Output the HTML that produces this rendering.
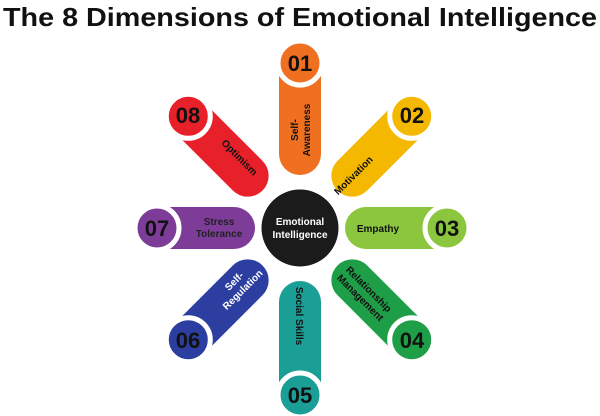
<!DOCTYPE html>
<html><head><meta charset="utf-8"><style>
html,body{margin:0;padding:0;background:#fff;}
svg{display:block;font-family:"Liberation Sans",sans-serif;font-weight:bold;}
</style></head><body>
<svg width="600" height="416" viewBox="0 0 600 416">
<text x="3" y="26" font-size="26" textLength="594" lengthAdjust="spacingAndGlyphs" fill="#111">The 8 Dimensions of Emotional Intelligence</text>

<g transform="translate(300,228)">
  <g transform="rotate(-90)"><path d="M152,-21 L74,-21 A21,21 0 0 0 74,21 L152,21 Z" fill="#f07021"/><circle cx="165" cy="0" r="22" fill="#f07021" stroke="#fff" stroke-width="5"/></g>
  <g transform="rotate(-45)"><path d="M146,-21 L74,-21 A21,21 0 0 0 74,21 L146,21 Z" fill="#f5b800"/><circle cx="158" cy="0" r="22" fill="#f5b800" stroke="#fff" stroke-width="5"/></g>
  <g transform="rotate(0)"><path d="M135,-21 L66,-21 A21,21 0 0 0 66,21 L135,21 Z" fill="#8cc63f"/><circle cx="147" cy="0" r="22" fill="#8cc63f" stroke="#fff" stroke-width="5"/></g>
  <g transform="rotate(45)"><path d="M146,-21 L74,-21 A21,21 0 0 0 74,21 L146,21 Z" fill="#1f9e48"/><circle cx="158" cy="0" r="22" fill="#1f9e48" stroke="#fff" stroke-width="5"/></g>
  <g transform="rotate(90)"><path d="M154,-21 L74,-21 A21,21 0 0 0 74,21 L154,21 Z" fill="#1a9e96"/><circle cx="167" cy="0" r="22" fill="#1a9e96" stroke="#fff" stroke-width="5"/></g>
  <g transform="rotate(135)"><path d="M146,-21 L74,-21 A21,21 0 0 0 74,21 L146,21 Z" fill="#2c3e9f"/><circle cx="158" cy="0" r="22" fill="#2c3e9f" stroke="#fff" stroke-width="5"/></g>
  <g transform="rotate(180)"><path d="M131,-21 L66,-21 A21,21 0 0 0 66,21 L131,21 Z" fill="#7d3c98"/><circle cx="143" cy="0" r="22" fill="#7d3c98" stroke="#fff" stroke-width="5"/></g>
  <g transform="rotate(-135)"><path d="M146,-21 L74,-21 A21,21 0 0 0 74,21 L146,21 Z" fill="#e8202a"/><circle cx="158" cy="0" r="22" fill="#e8202a" stroke="#fff" stroke-width="5"/></g>
  <circle cx="0" cy="0" r="40" fill="#1b1b1b" stroke="#fff" stroke-width="3"/>
</g>

<g font-size="22" fill="#111" text-anchor="middle">
  <text x="300" y="71">01</text>
  <text x="412" y="123">02</text>
  <text x="447" y="236">03</text>
  <text x="412" y="348">04</text>
  <text x="300" y="403">05</text>
  <text x="188" y="348">06</text>
  <text x="157" y="236">07</text>
  <text x="188" y="123">08</text>
</g>

<g font-size="10" fill="#111" text-anchor="middle">
  <text fill="#fff" x="300" y="225">Emotional</text>
  <text fill="#fff" x="300" y="238">Intelligence</text>
  <g transform="translate(300,130) rotate(-90)"><text y="-2">Self-</text><text y="10">Awareness</text></g>
  <g transform="translate(353,175) rotate(-45)"><text y="4">Motivation</text></g>
  <text x="378" y="232">Empathy</text>
  <g transform="translate(365,293) rotate(45)"><text y="-2">Relationship</text><text y="10">Management</text></g>
  <g transform="translate(300,316) rotate(90)"><text y="4">Social Skills</text></g>
  <g fill="#fff" transform="translate(238,285) rotate(-45)"><text y="-2">Self-</text><text y="10">Regulation</text></g>
  <g fill="#222"><text x="219" y="225">Stress</text><text x="219" y="237">Tolerance</text></g>
  <g transform="translate(240,157) rotate(45)"><text y="4">Optimism</text></g>
</g>
</svg>
</body></html>
